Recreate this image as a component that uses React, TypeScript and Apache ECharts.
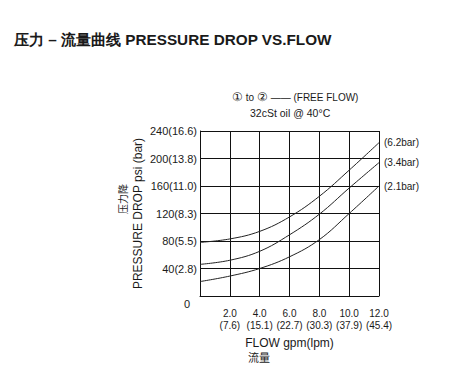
import React, { useEffect, useRef } from "react";
import * as echarts from "echarts";

const flow = [0, 2, 4, 6, 8, 10, 12];
const p62 = [78, 83, 94, 115, 145, 183, 223];
const p34 = [46, 52, 65, 89, 119, 157, 194];
const p21 = [21, 29, 40, 57, 82, 120, 160];
const seriesNames = ["(6.2bar)", "(3.4bar)", "(2.1bar)"];
const xTopLabels = ["", "2.0", "4.0", "6.0", "8.0", "10.0", "12.0"];
const xBottomLabels = ["", "(7.6)", "(15.1)", "(22.7)", "(30.3)", "(37.9)", "(45.4)"];
const yLabels = ["0", "40(2.8)", "80(5.5)", "120(8.3)", "160(11.0)", "200(13.8)", "240(16.6)"];

const FONT = "Liberation Sans, Arial, Helvetica, sans-serif";
const INK = "#1a1a1a";

export default function App() {
  const ref = useRef<HTMLDivElement>(null);
  useEffect(() => {
    if (!ref.current) return;
    const chart = echarts.init(ref.current, undefined, { renderer: "svg" });
    const mk = (vals: number[], name: string) => ({
      type: "line",
      name,
      data: flow.map((f, i) => [f, vals[i]]),
      smooth: 0.4,
      symbol: "none",
      lineStyle: { color: "#222", width: 1 },
      endLabel: {
        show: true,
        formatter: name,
        distance: 5,
        fontSize: 10,
        fontFamily: FONT,
        color: INK,
      },
    });
    chart.setOption({
      animation: false,
      backgroundColor: "#fff",
      textStyle: { fontFamily: FONT },
      title: {
        text: "压力 – 流量曲线 PRESSURE DROP VS.FLOW",
        left: 9,
        top: 27,
        textStyle: { fontSize: 15.3, fontWeight: "bold", color: INK, fontFamily: FONT },
      },
      graphic: [
        {
          type: "text",
          left: 232,
          top: 91,
          style: {
            text: "{c|①} to {c|②} —— (FREE FLOW)",
            fontSize: 10,
            fill: INK,
            fontFamily: FONT,
            rich: { c: { fontSize: 12, fontFamily: FONT, fill: INK } },
          },
        },
        {
          type: "text",
          left: 250,
          top: 107,
          style: { text: "32cSt oil @ 40°C", fontSize: 10.5, fill: INK, fontFamily: FONT },
        },
        {
          type: "text",
          x: 122,
          y: 199,
          rotation: Math.PI / 2,
          style: {
            text: "压力降",
            fontSize: 10,
            fill: "#222",
            fontFamily: "Noto Sans CJK SC",
            align: "center",
            verticalAlign: "middle",
          },
        },
        {
          type: "text",
          x: 259,
          y: 357,
          style: {
            text: "流量",
            fontSize: 11,
            fill: INK,
            fontFamily: "Noto Sans CJK SC",
            align: "center",
            verticalAlign: "middle",
          },
        },
      ],
      grid: { left: 200, right: 78, top: 131, bottom: 85 },
      xAxis: {
        type: "value",
        min: 0,
        max: 12,
        interval: 2,
        name: "FLOW gpm(lpm)",
        nameLocation: "middle",
        nameGap: 41,
        nameTextStyle: { fontSize: 12, color: INK, fontFamily: FONT },
        axisLine: { lineStyle: { color: "#111", width: 1 } },
        axisTick: { show: false },
        splitLine: { show: true, lineStyle: { color: "#111", width: 1 } },
        axisLabel: {
          fontSize: 10,
          color: INK,
          lineHeight: 12,
          margin: 11,
          showMaxLabel: true,
          formatter: (v: number) => {
            const i = Math.round(v / 2);
            return xTopLabels[i] ? xTopLabels[i] + "\n" + xBottomLabels[i] : "";
          },
        },
      },
      yAxis: {
        type: "value",
        min: 0,
        max: 240,
        interval: 40,
        name: "PRESSURE DROP psi (bar)",
        nameLocation: "middle",
        nameRotate: 90,
        nameGap: 56,
        nameTextStyle: { fontSize: 12, color: INK, fontFamily: FONT },
        axisLine: { show: true, lineStyle: { color: "#111", width: 1 } },
        axisTick: { show: false },
        splitLine: { show: true, lineStyle: { color: "#111", width: 1 } },
        axisLabel: {
          fontSize: 11,
          color: INK,
          margin: 3,
          showMaxLabel: true,
          formatter: (v: number) => {
            const i = Math.round(v / 40);
            return i === 0 ? "{z|" + yLabels[0] + "}" : yLabels[i];
          },
          rich: { z: { fontSize: 11, color: INK, padding: [16, 7, 0, 0] } },
        },
      },
      series: [mk(p62, seriesNames[0]), mk(p34, seriesNames[1]), mk(p21, seriesNames[2])],
    });
    return () => chart.dispose();
  }, []);
  return (
    <div
      ref={ref}
      style={{ position: "fixed", left: 0, top: 0, width: 457, height: 381, background: "#fff" }}
    />
  );
}
